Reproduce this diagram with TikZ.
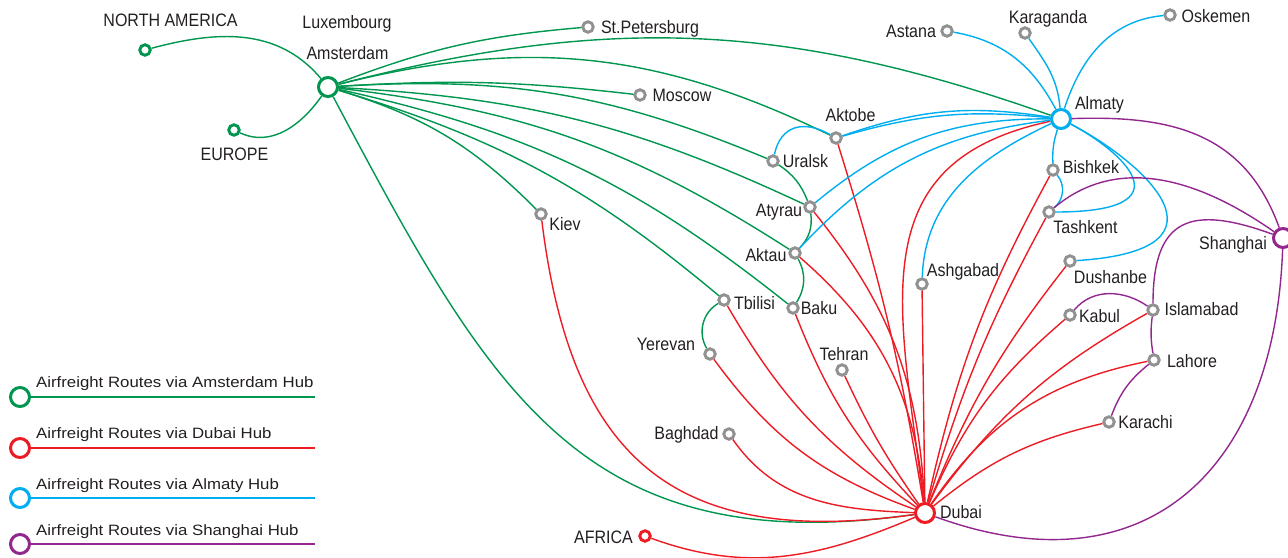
\documentclass[tikz,border=0pt]{standalone}
\usepackage{fontspec}
\setmainfont{Liberation Sans}
\newfontfamily\cityfont{Liberation Sans}[FakeStretch=0.89]
\newfontfamily\legendfont{Liberation Sans}[FakeStretch=1.12]
\usepackage{xcolor}
\usepackage{tikz}
\usetikzlibrary{positioning}

\definecolor{amsgreen}{RGB}{0,150,80}
\definecolor{dxbred}{RGB}{237,28,36}
\definecolor{alablue}{RGB}{0,174,239}
\definecolor{shapurple}{RGB}{146,39,143}
\definecolor{citygray}{RGB}{145,145,145}
\definecolor{labelblack}{RGB}{35,31,32}

\begin{document}
\begin{tikzpicture}[
                x=1pt, y=1pt,
                hub/.style={circle, draw=#1, line width=3pt, fill=white, minimum size=19pt, inner sep=0pt},
                city/.style={circle, draw=citygray, line width=2.9pt, fill=white, minimum size=10.5pt, inner sep=0pt},
                region/.style={city, draw=#1},
                place/.style={font=\cityfont\fontsize{18}{18}\selectfont, text=labelblack, inner sep=0pt, text height=13pt, text depth=0pt},
                route/.style={line width=1.4pt, draw=#1},
                legendtext/.style={font=\legendfont\fontsize{15}{15}\selectfont, text=labelblack, inner sep=0pt, text height=10.8pt, text depth=0pt, anchor=west}
                ]
                \useasboundingbox (0,0) rectangle (1288,-557);

                % Hubs
                \node[hub=amsgreen] (ams) at (328,-87) {};
                \node[hub=alablue] (almaty) at (1061,-119) {};
                \node[hub=dxbred] (dubai) at (925,-513) {};
                \node[hub=shapurple] (shanghai) at (1283,-238) {};

                % Regions
                \node[region=amsgreen] (namerica) at (145,-50) {};
                \node[region=amsgreen] (europe) at (234,-130) {};
                \node[region=dxbred] (africa) at (645,-536) {};

                % Cities
                \node[city] (stpete) at (588,-27) {};
                \node[city] (moscow) at (640,-95) {};
                \node[city] (aktobe) at (836,-138) {};
                \node[city] (uralsk) at (773,-161) {};
                \node[city] (atyrau) at (810,-207) {};
                \node[city] (aktau) at (795,-253) {};
                \node[city] (kiev) at (541,-214) {};
                \node[city] (tbilisi) at (724,-300) {};
                \node[city] (baku) at (793,-308) {};
                \node[city] (yerevan) at (710,-354) {};
                \node[city] (tehran) at (842,-370) {};
                \node[city] (baghdad) at (729,-434) {};
                \node[city] (astana) at (947,-31) {};
                \node[city] (karaganda) at (1025,-33) {};
                \node[city] (oskemen) at (1170,-15) {};
                \node[city] (bishkek) at (1053,-170) {};
                \node[city] (tashkent) at (1049,-212) {};
                \node[city] (ashgabad) at (922,-284) {};
                \node[city] (dushanbe) at (1070,-261) {};
                \node[city] (kabul) at (1070,-315) {};
                \node[city] (islamabad) at (1153,-310) {};
                \node[city] (lahore) at (1154,-360) {};
                \node[city] (karachi) at (1109,-422) {};

                % Labels
                \node[place] (namerica_txt) at (170.5,-20) {NORTH AMERICA};
                \node[place] (lux_txt) at (347,-22) {Luxembourg};
                \node[place] (ams_txt) at (347.5,-53) {Amsterdam};
                \node[place] (europe_txt) at (234.5,-154) {EUROPE};
                \node[place] (stpete_txt) at (650,-27) {St.Petersburg};
                \node[place] (moscow_txt) at (682,-95) {Moscow};
                \node[place] (aktobe_txt) at (850.5,-115) {Aktobe};
                \node[place] (uralsk_txt) at (805.5,-161) {Uralsk};
                \node[place] (atyrau_txt) at (779,-210) {Atyrau};
                \node[place] (aktau_txt) at (766,-255) {Aktau};
                \node[place] (kiev_txt) at (565,-224) {Kiev};
                \node[place] (tbilisi_txt) at (754.5,-303) {Tbilisi};
                \node[place] (baku_txt) at (819,-308) {Baku};
                \node[place] (yerevan_txt) at (666,-344) {Yerevan};
                \node[place] (tehran_txt) at (844,-354) {Tehran};
                \node[place] (baghdad_txt) at (686.5,-433) {Baghdad};
                \node[place] (africa_txt) at (603.5,-537) {AFRICA};
                \node[place] (dubai_txt) at (961,-512) {Dubai};
                \node[place] (astana_txt) at (911,-31) {Astana};
                \node[place] (karaganda_txt) at (1048,-17) {Karaganda};
                \node[place] (oskemen_txt) at (1216,-16) {Oskemen};
                \node[place] (almaty_txt) at (1099.5,-103) {Almaty};
                \node[place] (bishkek_txt) at (1091,-167) {Bishkek};
                \node[place] (tashkent_txt) at (1085.5,-227) {Tashkent};
                \node[place] (shanghai_txt) at (1233,-243) {Shanghai};
                \node[place] (ashgabad_txt) at (963,-270) {Ashgabad};
                \node[place] (dushanbe_txt) at (1110.5,-277) {Dushanbe};
                \node[place] (kabul_txt) at (1099.5,-316) {Kabul};
                \node[place] (islamabad_txt) at (1201.5,-309) {Islamabad};
                \node[place] (lahore_txt) at (1192,-361) {Lahore};
                \node[place] (karachi_txt) at (1145.5,-422) {Karachi};

                % Routes via Amsterdam
                \draw[route=amsgreen] (namerica) to[out=15, in=130] (ams);
                \draw[route=amsgreen] (europe) to[out=-25, in=-125] (ams);
                \draw[route=amsgreen] (ams) to[bend left=8] (stpete);
                \draw[route=amsgreen] (ams) to[bend left=17] (almaty);
                \draw[route=amsgreen] (ams) to[bend left=5] (moscow);
                \draw[route=amsgreen] (ams) to[bend left=20] (aktobe);
                \draw[route=amsgreen] (ams) to[bend left=13] (uralsk);
                \draw[route=amsgreen] (ams) to[bend left=11] (atyrau);
                \draw[route=amsgreen] (ams) to[bend left=13] (aktau);
                \draw[route=amsgreen] (ams) to[bend left=13] (baku);
                \draw[route=amsgreen] (ams) to[bend left=11.5] (tbilisi);
                \draw[route=amsgreen] (ams) to[bend left=14] (kiev);
                \draw[route=amsgreen] (ams) to[out=-62, in=188, looseness=1.2] (dubai);
                \draw[route=amsgreen] (uralsk) to[bend left=17] (atyrau);
                \draw[route=amsgreen] (atyrau) to[bend left=25] (aktau);
                \draw[route=amsgreen] (aktau) to[bend left=30] (baku);
                \draw[route=amsgreen] (tbilisi) to[bend right=45] (yerevan);

                % Routes via Dubai
                \draw[route=dxbred] (kiev) to[out=-83, in=188, looseness=1.3] (dubai);
                \draw[route=dxbred] (africa) to[out=-20, in=203] (dubai);
                \draw[route=dxbred] (baghdad) to[out=-55, in=178] (dubai);
                \draw[route=dxbred] (yerevan) to[bend right=17] (dubai);
                \draw[route=dxbred] (tbilisi) to[bend right=13] (dubai);
                \draw[route=dxbred] (baku) to[bend right=11] (dubai);
                \draw[route=dxbred] (tehran) to[bend right=5] (dubai);
                \draw[route=dxbred] (aktau) to[bend left=22] (dubai);
                \draw[route=dxbred] (atyrau) to[bend left=18] (dubai);
                \draw[route=dxbred] (aktobe) to[bend left=4] (dubai);
                \draw[route=dxbred] (ashgabad) -- (dubai);
                \draw[route=dxbred] (dubai) to[out=97, in=192, looseness=1.25] (almaty);
                \draw[route=dxbred] (dubai) to[bend left=8] (bishkek);
                \draw[route=dxbred] (dubai) to[bend left=6] (tashkent);
                \draw[route=dxbred] (dubai) to[bend left=8] (dushanbe);
                \draw[route=dxbred] (dubai) to[bend left=13] (kabul);
                \draw[route=dxbred] (dubai) to[bend left=12] (islamabad);
                \draw[route=dxbred] (dubai) to[bend left=22] (lahore);
                \draw[route=dxbred] (dubai) to[bend left=13] (karachi);

                % Routes via Almaty
                \draw[route=alablue] (astana) to[out=-10, in=118] (almaty);
                \draw[route=alablue] (karaganda) to[out=-55, in=95] (almaty);
                \draw[route=alablue] (oskemen) to[out=185, in=72] (almaty);
                \draw[route=alablue] (uralsk) to[out=78, in=150, looseness=1.3] (aktobe);
                \draw[route=alablue] (aktobe) to[bend left=14] (almaty);
                \draw[route=alablue] (aktobe) to[bend left=11] (almaty);
                \draw[route=alablue] (atyrau) to[bend left=20] (almaty);
                \draw[route=alablue] (aktau) to[bend left=20] (almaty);
                \draw[route=alablue] (ashgabad) to[out=88, in=205] (almaty);
                \draw[route=alablue] (almaty) to[bend right=10] (bishkek);
                \draw[route=alablue] (bishkek) to[bend left=45] (tashkent);
                \draw[route=alablue] (almaty) .. controls (1120,-150) and (1192,-212) .. (tashkent);
                \draw[route=alablue] (almaty) .. controls (1140,-160) and (1245,-250) .. (dushanbe);

                % Routes via Shanghai
                \draw[route=shapurple] (almaty) to[out=2, in=110, looseness=1.1] (shanghai);
                \draw[route=shapurple] (tashkent) to[out=40, in=145] (shanghai);
                \draw[route=shapurple] (islamabad) to[out=90, in=160, looseness=1.6] (shanghai);
                \draw[route=shapurple] (kabul) to[out=50, in=145] (islamabad);
                \draw[route=shapurple] (islamabad) to[bend right=8] (lahore);
                \draw[route=shapurple] (lahore) to[bend right=15] (karachi);
                \draw[route=shapurple] (dubai) to[out=-20, in=-92, looseness=1.3] (shanghai);

                % Legend
                \node[hub=amsgreen] (leg_ams) at (20,-397) {};
                \node[hub=dxbred] (leg_dxb) at (20,-448) {};
                \node[hub=alablue] (leg_ala) at (20,-498) {};
                \node[hub=shapurple] (leg_sha) at (20,-544) {};
                \coordinate (leg_ams_end) at (315,-397);
                \coordinate (leg_dxb_end) at (315,-448);
                \coordinate (leg_ala_end) at (315,-498);
                \coordinate (leg_sha_end) at (315,-544);
                \draw[route=amsgreen] (leg_ams) -- (leg_ams_end);
                \draw[route=dxbred] (leg_dxb) -- (leg_dxb_end);
                \draw[route=alablue] (leg_ala) -- (leg_ala_end);
                \draw[route=shapurple] (leg_sha) -- (leg_sha_end);
                \node[legendtext] (leg_ams_txt) at (36,-382) {Airfreight Routes via Amsterdam Hub};
                \node[legendtext] (leg_dxb_txt) at (36,-433.5) {Airfreight Routes via Dubai Hub};
                \node[legendtext] (leg_ala_txt) at (36,-484.5) {Airfreight Routes via Almaty Hub};
                \node[legendtext] (leg_sha_txt) at (36,-530) {Airfreight Routes via Shanghai Hub};

                \end{tikzpicture}
\end{document}
